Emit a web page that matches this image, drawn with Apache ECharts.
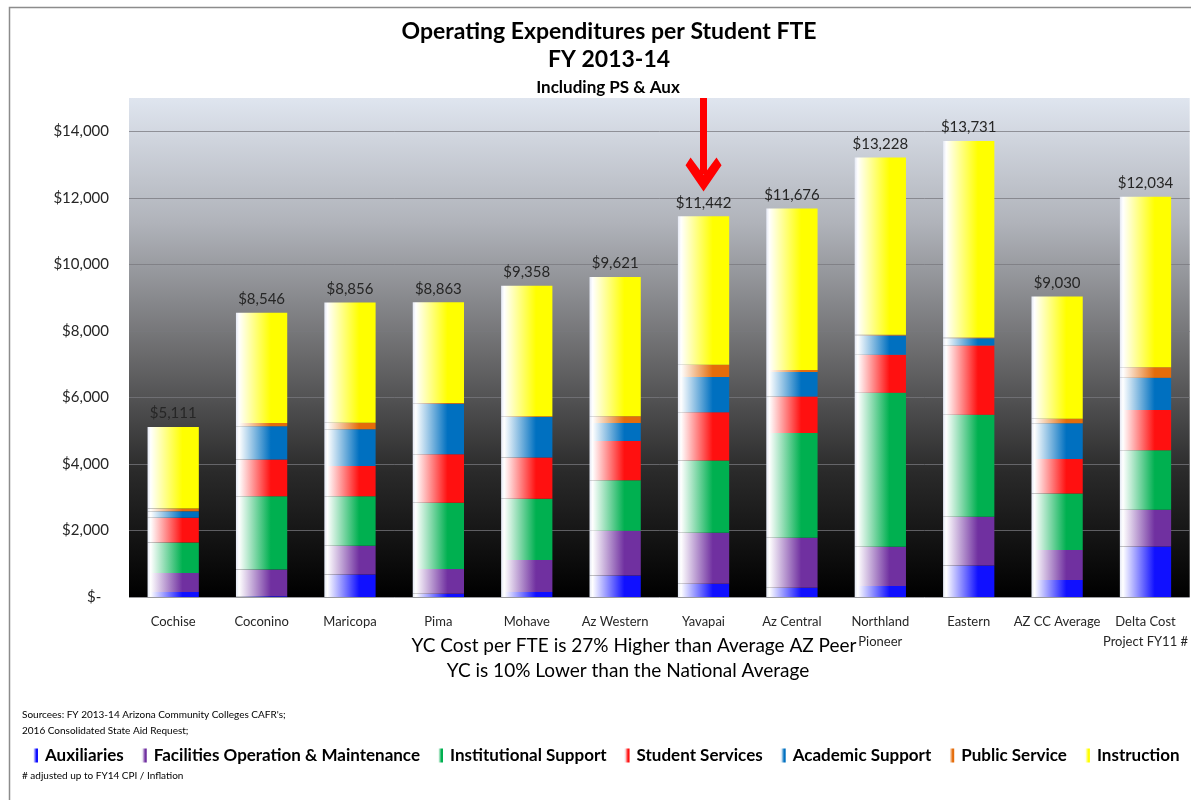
<!DOCTYPE html>
<html>
<head>
<meta charset="utf-8">
<script src="https://cdn.jsdelivr.net/npm/echarts@6/dist/echarts.min.js"></script>
<style>
    html, body { margin: 0; padding: 0; background: #fff; }
    #chart { width: 1191px; height: 800px; }
</style>
</head>
<body>
<div id="chart"></div>
<script>
    // categories (x axis)
    const colleges = ['Cochise', 'Coconino', 'Maricopa', 'Pima', 'Mohave', 'Az Western', 'Yavapai',
        'Az Central', 'Northland\nPioneer', 'Eastern', 'AZ CC Average', 'Delta Cost\nProject FY11 #']
    // total per FTE (labels above bars)
    const totals = [5111, 8546, 8856, 8863, 9358, 9621, 11442, 11676, 13228, 13731, 9030, 12034]
    // stacked segments
    const auxiliaries = [150, 20, 680, 100, 150, 650, 400, 280, 330, 950, 510, 1520]
    const facilities = [570, 810, 860, 740, 960, 1340, 1530, 1500, 1180, 1460, 900, 1100]
    const institutional = [920, 2200, 1490, 1990, 1840, 1520, 2170, 3150, 4630, 3070, 1700, 1790]
    const studentServices = [740, 1100, 910, 1460, 1240, 1180, 1450, 1100, 1140, 2080, 1040, 1210]
    const academicSupport = [200, 1000, 1100, 1520, 1220, 540, 1060, 730, 580, 220, 1070, 970]
    const publicService = [80, 100, 200, 20, 20, 200, 370, 60, 20, 20, 140, 320]
    const instruction = [2451, 3316, 3616, 3033, 3928, 4191, 4462, 4856, 5328, 5911, 3670, 5124]
    // y axis ticks
    const yTicks = [0, 2000, 4000, 6000, 8000, 10000, 12000, 14000]

    const FONT = 'Lato, "Open Sans", sans-serif'

    // bar fill: white on the left, colour on the right
    function barFill (color) {
        return new echarts.graphic.LinearGradient(0, 0, 1, 0, [
            {offset: 0, color: '#e4e8f4'},
            {offset: 0.06, color: '#ffffff'},
            {offset: 0.68, color: color},
            {offset: 1, color: color}
        ])
    }

    function makeSeries (name, data, color) {
        return {
            name: name,
            type: 'bar',
            stack: 'total',
            barWidth: '58%',
            data: data,
            itemStyle: {color: barFill(color)}
        }
    }

    const series = [
        makeSeries('Auxiliaries', auxiliaries, '#1010ff'),
        makeSeries('Facilities Operation & Maintenance', facilities, '#7030a0'),
        makeSeries('Institutional Support', institutional, '#00b050'),
        makeSeries('Student Services', studentServices, '#ff1010'),
        makeSeries('Academic Support', academicSupport, '#0070c0'),
        makeSeries('Public Service', publicService, '#e46c0a'),
        makeSeries('Instruction', instruction, '#ffff00')
    ]
    // total labels on top
    series[6].label = {
        show: true,
        position: 'top',
        distance: 6,
        color: '#262626',
        fontFamily: FONT,
        fontSize: 15,
        formatter: p => '$' + totals[p.dataIndex].toLocaleString('en-US')
    }
    // red arrow pointing at Yavapai
    series[6].markLine = {
        silent: true,
        animation: false,
        symbol: ['none', 'path://M50,0 L100,48 L86,62 L50,30 L14,62 L0,48 Z'],
        symbolSize: [36, 34],
        label: {show: false},
        lineStyle: {color: '#ff0000', width: 7, type: 'solid'},
        data: [[{coord: ['Yavapai', 15000]}, {coord: ['Yavapai', 12700]}]]
    }

    function text (x, y, str, font, extra) {
        return {
            type: 'text',
            x: x,
            y: y,
            silent: true,
            style: Object.assign({
                text: str,
                font: font,
                fill: '#000',
                textAlign: 'center',
                textVerticalAlign: 'middle'
            }, extra || {})
        }
    }

    const chart = echarts.init(document.getElementById('chart'))
    chart.setOption({
        animation: false,
        backgroundColor: '#ffffff',
        legend: {
            left: 28,
            top: 742,
            icon: 'rect',
            itemWidth: 5,
            itemHeight: 14,
            itemGap: 18,
            selectedMode: false,
            textStyle: {fontFamily: FONT, fontSize: 17, fontWeight: 'bold', color: '#000', padding: [0, 0, 0, 2]},
            data: series.map(s => s.name)
        },
        grid: {
            left: 129,
            right: 0,
            top: 98,
            bottom: 203,
            show: true,
            borderWidth: 0,
            backgroundColor: new echarts.graphic.LinearGradient(0, 0, 0, 1, [
                {offset: 0, color: '#dfe5ef'},
                {offset: 0.25, color: '#b0b3ba'},
                {offset: 0.5, color: '#6e6e70'},
                {offset: 0.75, color: '#2a2a2a'},
                {offset: 1, color: '#000000'}
            ])
        },
        xAxis: {
            type: 'category',
            data: colleges,
            axisLine: {show: false},
            axisTick: {show: false},
            axisLabel: {
                margin: 15,
                fontFamily: FONT,
                fontSize: 13,
                lineHeight: 20,
                color: '#262626',
                interval: 0
            }
        },
        yAxis: {
            type: 'value',
            min: 0,
            max: 15000,
            interval: 2000,
            axisLine: {show: false},
            axisTick: {show: false},
            splitLine: {
                showMaxLine: false,
                lineStyle: {color: 'rgba(120,120,125,0.75)', width: 1}
            },
            axisLabel: {
                margin: 20,
                showMaxLabel: false,
                fontFamily: FONT,
                fontSize: 15,
                color: '#262626',
                formatter: v => yTicks.indexOf(v) < 0 ? '' : (v === 0 ? '$-  ' : '$' + v.toLocaleString('en-US'))
            }
        },
        graphic: [
            {
                type: 'rect',
                left: 7, top: 5,
                shape: {width: 1200, height: 800},
                style: {fill: 'none', stroke: '#8c8c8c', lineWidth: 1.5},
                silent: true
            },
            text(609, 32, 'Operating Expenditures per Student FTE', 'bold 23px ' + FONT),
            text(609, 60, 'FY 2013-14', 'bold 23px ' + FONT),
            text(608, 88, 'Including PS & Aux', 'bold 17px ' + FONT),
            text(634, 646, 'YC Cost per FTE is 27% Higher than Average AZ Peer', '19px ' + FONT),
            text(628, 671, 'YC is 10% Lower than the National Average', '19px ' + FONT),
            text(22, 723, "Sourcees: FY 2013-14 Arizona Community Colleges CAFR's;\n2016 Consolidated State Aid Request;",
                '10px ' + FONT, {textAlign: 'left', lineHeight: 16}),
            text(22, 776, '# adjusted up to FY14 CPI / Inflation', '10px ' + FONT, {textAlign: 'left'})
        ],
        series: series
    })
</script>
</body>
</html>
